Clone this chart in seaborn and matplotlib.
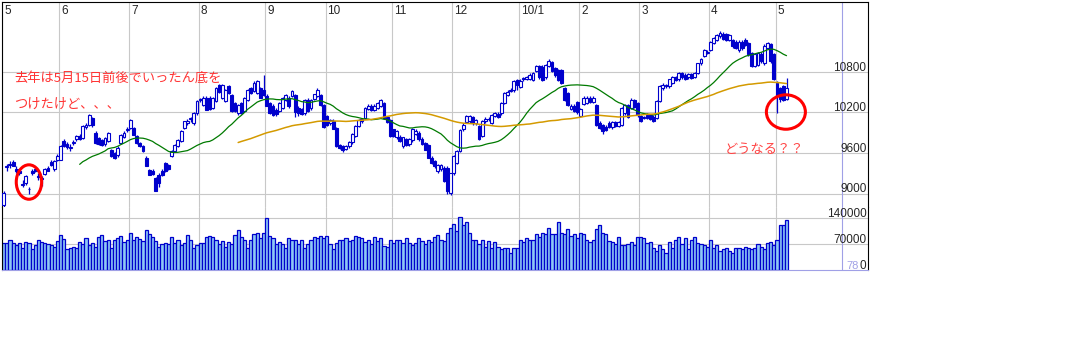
import numpy as np
import pandas as pd
import matplotlib
matplotlib.use("Agg")
import matplotlib.pyplot as plt
import matplotlib.transforms as mtransforms
from matplotlib.patches import Ellipse
import seaborn as sns

# 月ラベルと各月の営業日数
month_labels = ["5", "6", "7", "8", "9", "10", "11", "12", "10/1", "2", "3", "4", "5"]
days_per_month = [18, 22, 22, 21, 19, 21, 19, 21, 19, 19, 22, 21, 4]

# 日足 (始値・高値・安値・終値) 、1行1か月
opens = [
    8830, 9390, 9440, 9470, 9360, 9340, 9140, 9160, 9070, 9340, 9370, 9260, 9230, 9290, 9380, 9470, 9360, 9500,
    9500, 9780, 9740, 9680, 9750, 9800, 9850, 9820, 9980, 10010, 10120, 9900, 9820, 9790, 9730, 9780, 9640, 9600, 9570, 9750, 9840, 9940,
    9970, 9970, 9850, 9750, 9700, 9530, 9350, 9340, 9230, 9280, 9340, 9450, 9420, 9560, 9630, 9710, 9780, 9970, 10050, 10100, 10040, 10190,
    10380, 10310, 10420, 10420, 10270, 10370, 10600, 10420, 10370, 10590, 10460, 10340, 10190, 10340, 10220, 10390, 10560, 10520, 10490, 10560, 10530,
    10450, 10340, 10300, 10240, 10220, 10270, 10390, 10420, 10450, 10460, 10270, 10250, 10190, 10390, 10260, 10400, 10440, 10460, 10310,
    10150, 10040, 10080, 9970, 9720, 9700, 9660, 9700, 9760, 9850, 10000, 10070, 10120, 10250, 10300, 10240, 10270, 10300, 10340, 10130, 10090,
    9950, 9830, 9840, 9700, 9800, 9730, 9790, 9880, 9900, 9810, 9750, 9720, 9530, 9480, 9330, 9360, 9380, 9380, 9010,
    9300, 9450, 9630, 9950, 10060, 10070, 10130, 10040, 10000, 9850, 10070, 10100, 10050, 10150, 10180, 10190, 10340, 10460, 10520, 10530, 10680,
    10580, 10690, 10700, 10700, 10680, 10820, 10890, 10880, 10720, 10890, 10950, 10860, 10830, 10830, 10560, 10490, 10250, 10300, 10350,
    10150, 10330, 10340, 10420, 10360, 10310, 10050, 10010, 9990, 10050, 9980, 10060, 10000, 10020, 10190, 10310, 10270, 10380, 10340,
    10150, 10120, 10170, 10160, 10140, 10120, 10370, 10560, 10590, 10590, 10640, 10720, 10690, 10780, 10760, 10720, 10770, 10730, 10790, 10930, 11040, 11080,
    11130, 11230, 11280, 11330, 11370, 11360, 11280, 11270, 11250, 11120, 11250, 11280, 11230, 11080, 10890, 10910, 11070, 10930, 11160, 11210, 11060,
    10640, 10560, 10590, 10400,
]
closes = [
    9010, 9400, 9420, 9410, 9330, 9300, 9130, 9260, 9060, 9300, 9340, 9250, 9220, 9360, 9340, 9420, 9480, 9560,
    9700, 9700, 9690, 9690, 9770, 9850, 9810, 10000, 10020, 10160, 10010, 9750, 9740, 9720, 9820, 9900, 9560, 9530, 9680, 9870, 9900, 9950,
    10090, 9870, 9750, 9710, 9630, 9410, 9280, 9290, 9040, 9160, 9270, 9330, 9360, 9630, 9720, 9790, 9930, 10070, 10070, 10120, 10190, 10370,
    10400, 10420, 10240, 10250, 10420, 10560, 10500, 10600, 10530, 10490, 10220, 10220, 10310, 10190, 10420, 10530, 10490, 10640, 10670, 10420, 10460,
    10300, 10190, 10160, 10180, 10340, 10420, 10460, 10300, 10520, 10200, 10190, 10180, 10390, 10220, 10390, 10470, 10540, 10310, 9980,
    10020, 10090, 9960, 9700, 9680, 9650, 9700, 9760, 9880, 10000, 10090, 10100, 10270, 10300, 10240, 10300, 10340, 10380, 10120, 10060, 9850,
    9850, 9920, 9780, 9830, 9720, 9800, 9960, 9930, 9800, 9740, 9650, 9530, 9450, 9400, 9420, 9420, 9190, 9040, 9300,
    9560, 9630, 9940, 10020, 10150, 10150, 10040, 10090, 9800, 10080, 10110, 10100, 10170, 10190, 10140, 10340, 10490, 10510, 10530, 10670, 10600,
    10670, 10710, 10720, 10760, 10780, 10890, 10720, 10680, 10900, 10960, 10820, 10750, 10680, 10640, 10390, 10310, 10300, 10220, 10200,
    10250, 10420, 10420, 10360, 10420, 10020, 9970, 9930, 9940, 9990, 10060, 10000, 10060, 10270, 10310, 10140, 10390, 10280, 10160,
    10080, 10130, 10120, 10110, 10080, 10370, 10590, 10610, 10600, 10690, 10720, 10680, 10780, 10720, 10700, 10770, 10710, 10780, 10930, 10990, 11120, 11100,
    11240, 11300, 11350, 11380, 11290, 11280, 11350, 11180, 11160, 11250, 11150, 11200, 11060, 10890, 11060, 11080, 10960, 11190, 11230, 10960, 10700,
    10440, 10400, 10390, 10560,
]
highs = [
    9040, 9440, 9480, 9500, 9400, 9370, 9200, 9280, 9100, 9360, 9390, 9300, 9260, 9380, 9400, 9490, 9490, 9580,
    9720, 9800, 9770, 9730, 9790, 9870, 9880, 10010, 10040, 10180, 10140, 9920, 9840, 9810, 9830, 9910, 9660, 9620, 9700, 9880, 9920, 9980,
    10100, 9990, 9870, 9770, 9720, 9550, 9370, 9360, 9250, 9300, 9360, 9470, 9440, 9640, 9730, 9800, 9940, 10080, 10100, 10140, 10200, 10380,
    10420, 10440, 10440, 10440, 10430, 10580, 10620, 10620, 10550, 10610, 10480, 10360, 10320, 10360, 10430, 10550, 10580, 10660, 10680, 10580, 10760,
    10470, 10360, 10320, 10260, 10350, 10430, 10480, 10440, 10540, 10480, 10290, 10260, 10400, 10410, 10400, 10480, 10560, 10480, 10320,
    10160, 10110, 10100, 9980, 9740, 9720, 9720, 9780, 9890, 10010, 10100, 10120, 10280, 10320, 10320, 10320, 10360, 10400, 10360, 10150, 10100,
    9960, 9940, 9860, 9840, 9820, 9820, 9970, 9950, 9920, 9830, 9770, 9740, 9550, 9500, 9440, 9440, 9400, 9400, 9310,
    9570, 9640, 9950, 10040, 10160, 10170, 10150, 10110, 10010, 10090, 10130, 10130, 10180, 10200, 10200, 10350, 10500, 10530, 10560, 10680, 10700,
    10690, 10730, 10740, 10780, 10800, 10910, 10910, 10900, 10920, 10990, 10970, 10880, 10850, 10850, 10580, 10510, 10320, 10320, 10370,
    10270, 10440, 10440, 10440, 10440, 10330, 10070, 10030, 10010, 10070, 10080, 10080, 10080, 10280, 10330, 10330, 10410, 10400, 10360,
    10170, 10150, 10190, 10180, 10160, 10380, 10600, 10630, 10620, 10700, 10740, 10740, 10800, 10800, 10780, 10790, 10790, 10800, 10940, 11010, 11140, 11130,
    11260, 11320, 11370, 11410, 11390, 11380, 11370, 11290, 11270, 11270, 11270, 11300, 11250, 11100, 11080, 11100, 11090, 11210, 11250, 11230, 11080,
    10660, 10580, 10610, 10710,
]
lows = [
    8800, 9340, 9380, 9400, 9300, 9280, 9090, 9130, 9000, 9280, 9320, 9200, 9110, 9270, 9330, 9410, 9340, 9480,
    9490, 9690, 9660, 9630, 9720, 9780, 9790, 9800, 9960, 10000, 9990, 9740, 9720, 9700, 9710, 9760, 9540, 9510, 9540, 9730, 9820, 9910,
    9950, 9860, 9740, 9690, 9620, 9400, 9270, 9280, 9030, 9100, 9260, 9320, 9350, 9540, 9610, 9690, 9760, 9950, 10020, 10060, 10020, 10170,
    10350, 10290, 10230, 10230, 10250, 10350, 10490, 10400, 10350, 10480, 10200, 10200, 10170, 10180, 10200, 10370, 10480, 10500, 10470, 10410, 10440,
    10290, 10180, 10150, 10150, 10200, 10250, 10370, 10260, 10430, 10140, 10150, 10160, 10170, 10200, 10240, 10380, 10430, 10300, 9970,
    10000, 10020, 9950, 9690, 9660, 9610, 9640, 9680, 9740, 9830, 9980, 10050, 10100, 10230, 10220, 10220, 10250, 10280, 10100, 10040, 9840,
    9830, 9810, 9760, 9680, 9700, 9710, 9770, 9860, 9780, 9720, 9640, 9520, 9430, 9380, 9310, 9340, 9170, 9000, 8980,
    9280, 9430, 9610, 9930, 10040, 10050, 10020, 10020, 9790, 9830, 10050, 10070, 10030, 10130, 10120, 10170, 10320, 10440, 10500, 10510, 10530,
    10560, 10670, 10680, 10680, 10660, 10800, 10700, 10660, 10700, 10870, 10800, 10730, 10660, 10620, 10370, 10290, 10230, 10200, 10180,
    10130, 10310, 10320, 10340, 10340, 10000, 9950, 9880, 9920, 9970, 9960, 9980, 9980, 10000, 10170, 10120, 10250, 10260, 10140,
    10060, 10100, 10100, 10090, 10060, 10100, 10350, 10540, 10570, 10570, 10620, 10660, 10670, 10700, 10680, 10700, 10690, 10710, 10770, 10910, 11020, 11060,
    11110, 11210, 11260, 11310, 11270, 11260, 11260, 11160, 11140, 11100, 11130, 11180, 11040, 10870, 10870, 10890, 10940, 10910, 11140, 10940, 10680,
    10190, 10360, 10370, 10380,
]
# 出来高 (千)
volumes_k = [
    72, 74, 80, 72, 66, 72, 60, 76, 72, 56, 68, 82, 76, 74, 70, 66, 62, 78,
    95, 84, 56, 58, 62, 60, 76, 70, 85, 68, 72, 62, 90, 95, 78, 80, 60, 82, 86, 92, 76, 80,
    100, 80, 88, 84, 78, 108, 98, 88, 78, 62, 70, 72, 70, 90, 74, 80, 66, 72, 95, 80, 60, 68,
    72, 74, 90, 92, 90, 80, 70, 78, 62, 76, 70, 95, 108, 90, 80, 60, 80, 96, 100, 86, 100,
    140, 92, 86, 70, 76, 70, 60, 86, 80, 82, 70, 80, 60, 70, 80, 88, 86, 92, 85,
    92, 70, 56, 72, 80, 82, 86, 78, 80, 92, 88, 86, 75, 80, 70, 88, 78, 85, 65, 62, 80,
    72, 80, 80, 72, 86, 72, 68, 72, 86, 78, 70, 80, 76, 90, 95, 80, 78, 100, 112,
    125, 105, 142, 120, 130, 100, 82, 82, 70, 82, 62, 78, 60, 76, 62, 56, 58, 60, 46, 58, 58,
    82, 76, 86, 82, 80, 96, 90, 100, 96, 112, 96, 96, 130, 100, 96, 110, 92, 96, 86,
    100, 96, 82, 76, 82, 110, 122, 100, 96, 78, 76, 70, 90, 68, 66, 70, 76, 66, 90,
    88, 86, 72, 76, 60, 50, 68, 56, 46, 76, 60, 80, 88, 70, 86, 56, 80, 88, 72, 70, 68, 62,
    80, 60, 66, 50, 56, 58, 52, 46, 60, 60, 56, 62, 60, 56, 58, 70, 62, 56, 72, 76, 68,
    82, 120, 122, 135,
]

price_ticks = [9000, 9600, 10200, 10800]
volume_ticks = [70000, 140000]

df = pd.DataFrame({"open": opens, "high": highs, "low": lows, "close": closes,
                   "volume": np.array(volumes_k) * 1000})
df["day"] = np.arange(len(df))
df["ma25"] = df["close"].rolling(25).mean()
df["ma75"] = df["close"].rolling(75).mean()
month_starts = np.concatenate([[0], np.cumsum(days_per_month)[:-1]])

sns.set_style("white")
plt.rcParams["font.family"] = ["Liberation Sans", "Noto Sans CJK JP", "DejaVu Sans"]

BLUE = "#0000cc"
GRID = "#c8c8c8"
LAV = "#a0a0e6"

W, H = 1081, 364
def box(x0, y0, x1, y1):
    return [x0 / W, 1 - y1 / H, (x1 - x0) / W, (y1 - y0) / H]

fig = plt.figure(figsize=(W / 100, H / 100), dpi=100)
ax = fig.add_axes(box(2, 2, 868, 207))
axv = fig.add_axes(box(2, 207, 868, 270))

px_day = 840 / 265
xlim = (-0.5, -0.5 + 866 / px_day)
sep_x = -0.5 + 840 / px_day
px_price = 600 / 40.5
px_vol = 140000 / 52

# グリッド
for a in (ax, axv):
    for s in month_starts:
        a.axvline(s - 0.4, color=GRID, lw=0.8, zorder=0)
    a.axvline(sep_x, color=LAV, lw=0.8, zorder=1)
for t in price_ticks:
    ax.axhline(t, color=GRID, lw=0.8, zorder=0)
for t in volume_ticks:
    axv.axhline(t, color=GRID, lw=0.8, zorder=0)

# ローソク足
up = df["close"] >= df["open"]
body_lo = np.minimum(df["open"], df["close"])
body_h = np.maximum((df["close"] - df["open"]).abs(), 10)
ax.vlines(df["day"], df["low"], df["high"], color=BLUE, lw=0.9, zorder=2)
ax.bar(df["day"], body_h, bottom=body_lo, width=0.9,
       color=np.where(up, "white", BLUE), edgecolor=BLUE, linewidth=0.8, zorder=3)

# 移動平均
sns.lineplot(data=df, x="day", y="ma25", color="#007a00", lw=0.9, ax=ax, zorder=4)
sns.lineplot(data=df, x="day", y="ma75", color="#d49a00", lw=1.1, ax=ax, zorder=4)

# 出来高
sns.barplot(data=df, x="day", y="volume", native_scale=True, width=1.0, color="#8ec8f5",
            saturation=1, edgecolor=BLUE, linewidth=0.9, errorbar=None, ax=axv, zorder=2)

ax.set_xlim(*xlim)
axv.set_xlim(*xlim)
ax.set_ylim(10800 - 135 * px_price, 10800 + 70 * px_price)
axv.set_ylim(0, 63 * px_vol)

for a in (ax, axv):
    a.set_xticks([])
    a.set_yticks([])
    a.set_xlabel("")
    a.set_ylabel("")
    for sp in a.spines.values():
        sp.set_color("black")
        sp.set_linewidth(0.8)
ax.spines["bottom"].set_visible(False)
axv.spines["top"].set_visible(False)
axv.spines["bottom"].set_color(LAV)

# 軸ラベル
tr = mtransforms.offset_copy(ax.get_yaxis_transform(), fig=fig, y=1, units="dots")
for t in price_ticks:
    ax.text(1 - 1.5 / 866, t, str(t), transform=tr, ha="right", va="baseline", fontsize=8.5)
trv = mtransforms.offset_copy(axv.get_yaxis_transform(), fig=fig, y=1, units="dots")
for t in volume_ticks + [0]:
    axv.text(1 - 1.5 / 866, t, str(t), transform=trv, ha="right", va="baseline", fontsize=8.5)
# 右下の薄い数字 (末尾の 0 は黒い 0 に隠れる)
axv.text((859 - 2) / 866, 0, "78", transform=trv, ha="right", va="baseline", fontsize=8, color=LAV)

for s, lab in zip(month_starts, month_labels):
    ax.text(s - 0.4 + 0.6, 1 - 2.5 / 205, lab, transform=ax.get_xaxis_transform(),
            ha="left", va="top", fontsize=8.5)

# 書き込み
jp = ["Noto Sans CJK JP", "DejaVu Sans"]
ax.text(3.3, 10705, "去年は5月15日前後でいったん底を", color="#ff3333", fontsize=9.5,
        family=jp, ha="left", va="center")
ax.text(3.3, 10320, "つけたけど、、、", color="#ff3333", fontsize=9.5,
        family=jp, ha="left", va="center")
ax.text(227.5, 9650, "どうなる？？", color="#ff4444", fontsize=9.5,
        family=jp, ha="left", va="center")
ax.add_patch(Ellipse((8.0, 9170), 8.0, 510, fill=False, ec="#ff0000", lw=2.2, zorder=6))
ax.add_patch(Ellipse((246.8, 10207), 12.3, 510, fill=False, ec="#ff0000", lw=2.2, zorder=6))

fig.savefig("out.png", dpi=100)
